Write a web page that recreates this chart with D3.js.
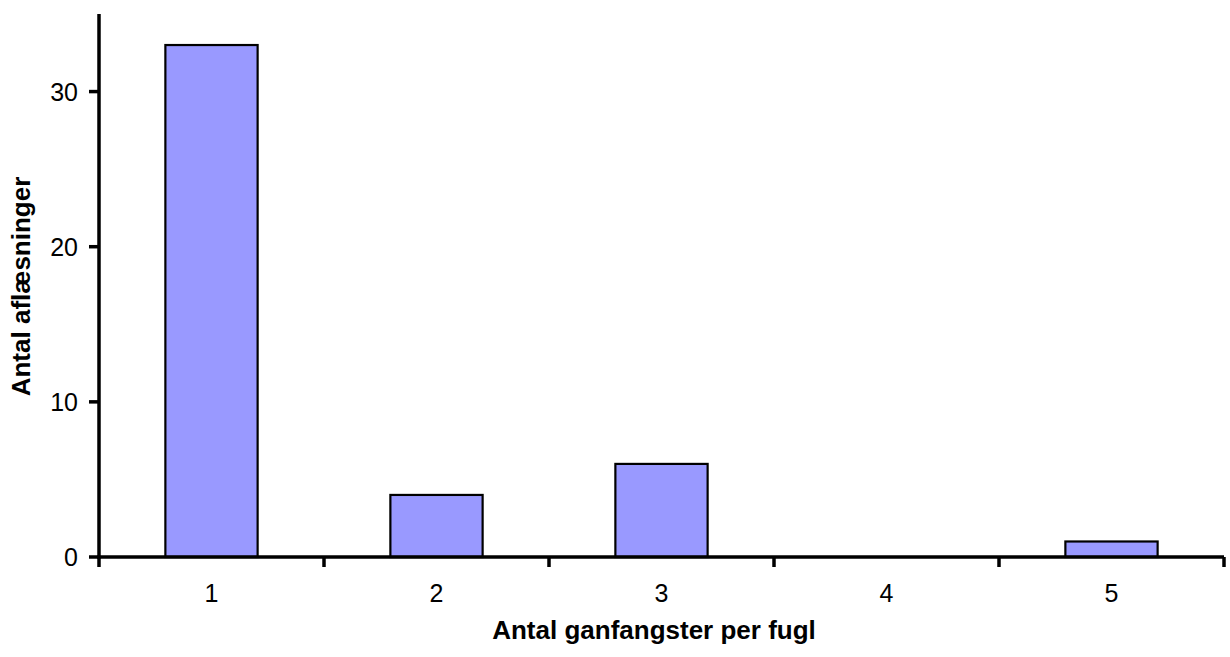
<!DOCTYPE html>
<html>
<head>
<meta charset="utf-8">
<script src="https://cdn.jsdelivr.net/npm/d3@7"></script>
<style>
  body { margin: 0; background: #fff; }
  text { font-family: "Liberation Sans", Arial, sans-serif; fill: #000; }
</style>
</head>
<body>
<div id="chart"></div>
<script>
// data
var categories = ["1", "2", "3", "4", "5"];
var counts = [33, 4, 6, 0, 1];
var yTicks = [0, 10, 20, 30];

var width = 1230, height = 657;
var plotLeft = 99, plotRight = 1224, plotTop = 14, plotBottom = 557;

var svg = d3.select("#chart").append("svg")
	.attr("width", width).attr("height", height);

var x = d3.scaleBand().domain(categories).range([plotLeft, plotRight]).padding(0);
var y = d3.scaleLinear().domain([0, 35]).range([plotBottom, plotTop]);
var barW = x.bandwidth() * 0.41;

// bars
svg.selectAll("rect.bar").data(counts).enter().append("rect")
	.attr("class", "bar")
	.attr("x", function(d, i) { return x(categories[i]) + (x.bandwidth() - barW) / 2; })
	.attr("y", function(d) { return y(d); })
	.attr("width", barW)
	.attr("height", function(d) { return y(0) - y(d); })
	.attr("fill", "#9999ff")
	.attr("stroke", "#000")
	.attr("stroke-width", 2.2)
	.style("display", function(d) { return d > 0 ? null : "none"; });

// y axis
svg.append("line")
	.attr("x1", plotLeft).attr("x2", plotLeft).attr("y1", plotTop).attr("y2", plotBottom + 1.75)
	.attr("stroke", "#000").attr("stroke-width", 3.5);
svg.selectAll("line.ytick").data(yTicks).enter().append("line")
	.attr("class", "ytick")
	.attr("x1", plotLeft - 10).attr("x2", plotLeft)
	.attr("y1", function(d) { return y(d); }).attr("y2", function(d) { return y(d); })
	.attr("stroke", "#000").attr("stroke-width", 3.5);
svg.selectAll("text.ylab").data(yTicks).enter().append("text")
	.attr("class", "ylab")
	.attr("x", plotLeft - 21)
	.attr("y", function(d) { return y(d); })
	.attr("dy", "0.36em")
	.attr("text-anchor", "end")
	.style("font-size", "25px")
	.text(function(d) { return d; });

// x axis
svg.append("line")
	.attr("x1", plotLeft - 1.75).attr("x2", plotRight).attr("y1", plotBottom).attr("y2", plotBottom)
	.attr("stroke", "#000").attr("stroke-width", 3.5);
var xTickPos = categories.map(function(c) { return x(c); }).concat([x(categories[categories.length - 1]) + x.bandwidth()]);
svg.selectAll("line.xtick").data(xTickPos).enter().append("line")
	.attr("class", "xtick")
	.attr("x1", function(d) { return d; }).attr("x2", function(d) { return d; })
	.attr("y1", plotBottom).attr("y2", plotBottom + 10)
	.attr("stroke", "#000").attr("stroke-width", 3.5);
svg.selectAll("text.xlab").data(categories).enter().append("text")
	.attr("class", "xlab")
	.attr("x", function(d) { return x(d) + x.bandwidth() / 2; })
	.attr("y", 602)
	.attr("text-anchor", "middle")
	.style("font-size", "25px")
	.text(function(d) { return d; });

// axis titles
svg.append("text")
	.attr("x", 654).attr("y", 639)
	.attr("text-anchor", "middle")
	.style("font-size", "26px").style("font-weight", "bold")
	.text("Antal ganfangster per fugl");
svg.append("text")
	.attr("transform", "translate(30," + ((plotTop + plotBottom) / 2 + 1) + ") rotate(-90)")
	.attr("text-anchor", "middle")
	.style("font-size", "26px").style("font-weight", "bold")
	.text("Antal aflæsninger");
</script>
</body>
</html>
